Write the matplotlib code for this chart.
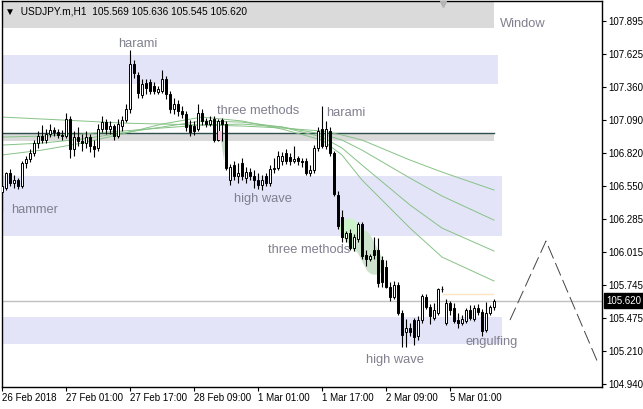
import matplotlib
matplotlib.use("Agg")
import matplotlib.pyplot as plt
from matplotlib.patches import Rectangle, Polygon

plt.rcParams['font.family'] = ['Liberation Sans', 'DejaVu Sans']

W, H = 643, 409

# H1 candles, oldest first (USDJPY.m)
opens = [106.50, 106.54, 106.66, 106.58, 106.60, 106.55, 106.74, 106.77, 106.82, 106.90,
         106.96, 106.93, 106.98, 107.01, 106.99, 106.97, 106.96, 107.10, 106.85, 106.95,
         106.92, 106.90, 106.95, 106.88, 106.86, 107.02, 107.07, 107.02, 107.04, 106.96,
         107.04, 107.09, 107.18, 107.55, 107.46, 107.29, 107.39, 107.40, 107.37, 107.32,
         107.33, 107.42, 107.30, 107.18, 107.22, 107.16, 107.14, 107.05, 107.04, 107.02,
         107.15, 107.08, 107.06, 107.10, 106.93, 107.09, 107.06, 106.60, 106.72, 106.63,
         106.74, 106.62, 106.67, 106.63, 106.60, 106.56, 106.63, 106.58, 106.69, 106.70,
         106.76, 106.82, 106.79, 106.76, 106.78, 106.76, 106.76, 106.66, 106.68, 106.86,
         107.02, 106.88, 107.00, 106.82, 106.48, 106.30, 106.13, 106.17, 106.05, 106.12,
         106.24, 105.99, 105.96, 106.03, 106.03, 105.95, 105.89, 105.73, 105.65, 105.75,
         105.52, 105.36, 105.40, 105.46, 105.33, 105.46, 105.65, 105.57, 105.48, 105.52,
         105.71, 105.44, 105.60, 105.56, 105.46, 105.44, 105.45, 105.54, 105.47, 105.56,
         105.53, 105.38, 105.52, 105.569]
highs = [106.56, 106.67, 106.69, 106.64, 106.62, 106.76, 106.80, 106.85, 106.93, 107.00,
         107.05, 107.02, 107.06, 107.03, 107.02, 107.01, 107.15, 107.12, 107.00, 107.03,
         106.98, 107.00, 106.98, 106.93, 107.06, 107.12, 107.10, 107.08, 107.06, 107.10,
         107.12, 107.22, 107.66, 107.58, 107.48, 107.42, 107.42, 107.42, 107.40, 107.37,
         107.50, 107.45, 107.33, 107.27, 107.25, 107.20, 107.16, 107.09, 107.08, 107.22,
         107.18, 107.11, 107.12, 107.12, 107.10, 107.11, 107.08, 106.73, 106.76, 106.74,
         106.78, 106.71, 106.70, 106.68, 106.66, 106.64, 106.66, 106.72, 106.78, 106.84,
         106.83, 106.85, 106.82, 106.88, 106.80, 106.78, 106.78, 106.72, 106.89, 107.03,
         107.20, 107.08, 107.03, 106.84, 106.51, 106.36, 106.19, 106.20, 106.16, 106.26,
         106.26, 106.03, 106.00, 106.14, 106.13, 105.98, 105.95, 105.77, 105.78, 105.77,
         105.54, 105.47, 105.44, 105.48, 105.49, 105.67, 105.67, 105.59, 105.60, 105.72,
         105.74, 105.63, 105.62, 105.60, 105.52, 105.50, 105.56, 105.58, 105.58, 105.59,
         105.55, 105.61, 105.58, 105.636]
lows = [106.35, 106.52, 106.55, 106.54, 106.53, 106.54, 106.70, 106.75, 106.80, 106.86,
        106.90, 106.90, 106.95, 106.96, 106.94, 106.93, 106.94, 106.78, 106.80, 106.88,
        106.84, 106.86, 106.83, 106.79, 106.84, 106.99, 106.98, 106.98, 106.93, 106.94,
        107.00, 107.07, 107.15, 107.43, 107.27, 107.27, 107.30, 107.30, 107.30, 107.30,
        107.31, 107.26, 107.15, 107.14, 107.12, 107.11, 107.00, 106.96, 106.97, 107.00,
        107.05, 107.03, 107.04, 106.91, 106.92, 106.92, 106.68, 106.56, 106.60, 106.58,
        106.60, 106.58, 106.60, 106.54, 106.53, 106.52, 106.55, 106.55, 106.66, 106.68,
        106.72, 106.73, 106.72, 106.74, 106.72, 106.71, 106.64, 106.63, 106.66, 106.84,
        106.86, 106.85, 106.80, 106.47, 106.20, 106.10, 106.10, 106.03, 106.02, 106.10,
        105.96, 105.90, 105.94, 105.96, 105.73, 105.73, 105.72, 105.62, 105.63, 105.50,
        105.24, 105.24, 105.33, 105.26, 105.30, 105.44, 105.55, 105.43, 105.46, 105.50,
        105.69, 105.42, 105.50, 105.44, 105.40, 105.42, 105.44, 105.46, 105.45, 105.50,
        105.33, 105.36, 105.50, 105.545]
closes = [106.55, 106.66, 106.58, 106.60, 106.55, 106.74, 106.77, 106.82, 106.90, 106.96,
          106.93, 106.98, 107.01, 106.99, 106.97, 106.96, 107.10, 106.85, 106.95, 106.92,
          106.90, 106.95, 106.88, 106.85, 107.02, 107.07, 107.02, 107.04, 106.96, 107.06,
          107.09, 107.18, 107.55, 107.47, 107.31, 107.38, 107.35, 107.33, 107.33, 107.34,
          107.42, 107.30, 107.18, 107.22, 107.16, 107.14, 107.03, 106.99, 107.00, 107.15,
          107.08, 107.06, 107.09, 106.93, 107.08, 107.06, 106.70, 106.71, 106.63, 106.66,
          106.63, 106.67, 106.63, 106.60, 106.56, 106.60, 106.58, 106.69, 106.70, 106.80,
          106.80, 106.76, 106.76, 106.77, 106.76, 106.75, 106.66, 106.68, 106.86, 107.00,
          106.88, 107.02, 106.82, 106.49, 106.23, 106.14, 106.17, 106.05, 106.14, 106.24,
          105.98, 105.96, 105.98, 105.99, 105.76, 105.77, 105.73, 105.65, 105.75, 105.52,
          105.34, 105.40, 105.36, 105.32, 105.46, 105.66, 105.57, 105.49, 105.54, 105.71,
          105.71, 105.60, 105.54, 105.45, 105.44, 105.47, 105.54, 105.48, 105.56, 105.53,
          105.37, 105.52, 105.57, 105.620]

# moving averages read at a few bars
ma_bars = [0, 10, 20, 30, 40, 50, 60, 70, 80, 85, 90, 102, 110, 123]
ma_1 = [107.114, 107.098, 107.082, 107.065, 107.057, 107.049, 107.041, 107.025, 107.000, 106.968, 106.927, 106.764, 106.666, 106.520]
ma_2 = [106.951, 106.959, 106.976, 107.000, 107.025, 107.049, 107.057, 107.033, 106.976, 106.927, 106.845, 106.617, 106.471, 106.275]
ma_3 = [106.886, 106.902, 106.935, 106.984, 107.033, 107.082, 107.073, 107.033, 106.951, 106.862, 106.723, 106.398, 106.210, 106.023]
ma_4 = [106.805, 106.845, 106.902, 106.976, 107.057, 107.114, 107.082, 107.016, 106.927, 106.805, 106.601, 106.210, 105.974, 105.779]

# rectangle objects: end bar, low, high, colour
zone_end = [123.0, 124.0, 123.0, 125.0, 125.0]
zone_lo = [107.839, 107.383, 106.921, 106.145, 105.266]
zone_hi = [108.200, 107.619, 106.981, 106.634, 105.486]
zone_col = ['#dadada', '#e4e4f8', '#dadada', '#e4e4f8', '#e4e4f8']
window_line = 106.981

# projection (dashed) and small level line
proj_bars = [127, 136, 149]
proj_prices = [105.461, 106.105, 105.111]
level_bars = [110.25, 122.75]
level_price = 105.670
last_price = 105.620

# pattern labels
label_text = ['harami', 'three methods', 'harami', 'hammer', 'high wave',
              'three methods', 'high wave', 'engulfing', 'Window']
label_bar = [34.0, 53.75, 81.0, 2.25, 58.0, 66.5, 91.0, 115.75, 124.5]
label_price = [107.709, 107.163, 107.147, 106.357, 106.446, 106.031, 105.135, 105.282, 107.871]
label_ha = ['center', 'left', 'left', 'left', 'left', 'left', 'left', 'left', 'left']

ytick_vals = [104.940, 105.210, 105.475, 105.745, 106.015, 106.285, 106.550,
              106.820, 107.090, 107.360, 107.625, 107.895]
ytick_labels = ['104.940', '105.210', '105.475', '105.745', '106.015', '106.285', '106.550',
                '106.820', '107.090', '107.360', '107.625', '107.895']
xtick_bars = [0, 16, 32, 48, 64, 80, 96, 112]
xtick_labels = ['26 Feb 2018', '27 Feb 01:00', '27 Feb 17:00', '28 Feb 09:00',
                '1 Mar 01:00', '1 Mar 17:00', '2 Mar 09:00', '5 Mar 01:00']

fig = plt.figure(figsize=(W / 100, H / 100), dpi=100)
ax = fig.add_axes([1.5 / W, (H - 386.5) / H, 600 / W, 385.5 / H])
ax.set_xlim(-0.125, 149.875)
ax.set_ylim(104.920, 108.059)

# zones
for end, lo, hi, col in zip(zone_end, zone_lo, zone_hi, zone_col):
    ax.add_patch(Rectangle((-1, lo), end + 1, hi - lo, color=col, lw=0, zorder=0))
ax.plot([-1, zone_end[2]], [window_line, window_line], color='#2f4f4f', lw=1, zorder=1)
ax.axhline(last_price, color='#c0c0c0', lw=1, zorder=1)
ax.plot(level_bars, [level_price, level_price], color='#ffe4c4', lw=1, zorder=1)

# three methods highlight blobs
ax.plot([86.75, 89.5], [106.210, 106.088], color='#ccf2cc', lw=14,
        solid_capstyle='round', zorder=1)
ax.plot([90.0, 93.25], [106.113, 105.909], color='#cde3cd', lw=14,
        solid_capstyle='round', zorder=1)
ax.add_patch(Polygon([[54.75, 106.927], [56.0, 106.927], [55.5, 106.76]],
                     closed=True, color='#c8dcc8', lw=0, zorder=1))

# moving averages
for ma in [ma_1, ma_2, ma_3, ma_4]:
    ax.plot(ma_bars, ma, color='#86c286', lw=0.7, zorder=2)

# candles
idx = list(range(len(closes)))
ax.vlines(idx, lows, highs, color='black', lw=0.8, zorder=3)
body_lo = [min(o, c) for o, c in zip(opens, closes)]
body_h = [abs(c - o) for o, c in zip(opens, closes)]
body_fc = ['white' if c >= o else 'black' for o, c in zip(opens, closes)]
ax.bar(idx, body_h, bottom=body_lo, width=0.65, color=body_fc,
       edgecolor='black', linewidth=0.7, zorder=4)
ax.add_patch(Rectangle((53.9, 106.93), 1.2, 0.07, color='#f6c6dc', lw=0, zorder=4.5))

# projection
ax.plot(proj_bars, proj_prices, color='#444444', lw=0.7, dashes=(14, 5), zorder=3)

# labels
for t, b, p, ha in zip(label_text, label_bar, label_price, label_ha):
    ax.text(b, p, t, ha=ha, va='center', fontsize=9.3, color='#80808f', zorder=5)

# header
ax.text(3.5 / 600, (386.5 - 11) / 385.5, '\u25bc  USDJPY.m,H1  105.569 105.636 105.545 105.620',
        transform=ax.transAxes, fontsize=7.3, color='black', va='center', ha='left', zorder=6)
ax.plot([(443 - 1.5) / 600], [(386.5 - 4) / 385.5], marker='v', ms=5, color='#b4b4b4',
        transform=ax.transAxes, clip_on=False, zorder=6)

# axes styling
for s in ax.spines.values():
    s.set_color('black')
    s.set_linewidth(1)
ax.yaxis.tick_right()
ax.set_yticks(ytick_vals)
ax.set_yticklabels(ytick_labels)
ax.set_xticks(xtick_bars)
ax.set_xticklabels(xtick_labels, ha='left')
ax.tick_params(axis='y', length=3, width=0.8, pad=2, labelsize=7)
ax.tick_params(axis='x', length=3, width=0.8, pad=2, labelsize=7)

ax.annotate(f'{last_price:.3f}', xy=(1, last_price), xycoords=('axes fraction', 'data'),
            xytext=(3.5, 0), textcoords='offset points', ha='left', va='center',
            color='white', fontsize=7,
            bbox=dict(boxstyle='square,pad=0.25', fc='black', ec='black'))

fig.savefig('out.png', dpi=100)
